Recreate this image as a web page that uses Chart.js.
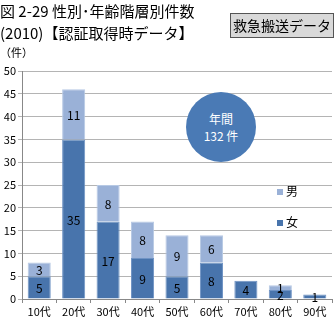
<!DOCTYPE html>
<html>
<head>
<meta charset="utf-8">
<script src="https://cdn.jsdelivr.net/npm/chart.js@4"></script>
<style>
  body { margin: 0; background: #fff; font-family: "Noto Sans CJK JP", sans-serif; }
  #wrap { position: relative; width: 335px; height: 320px; overflow: hidden; }
  #wrap canvas { position: absolute; left: 0; top: 0; }
  .title { position: absolute; left: 0; font-size: 15px; line-height: 18px; color: #000; white-space: nowrap; }
  #badge { position: absolute; left: 230px; top: 13px; width: 102px; height: 23px; background: #d9d9d9;
           border: 1px solid #555; font-size: 14px; line-height: 23px; text-align: center; box-sizing: content-box; }
  #unit { position: absolute; left: 0px; top: 44px; font-size: 11px; }
  #bubble { position: absolute; left: 186px; top: 92px; width: 70px; height: 70px; border-radius: 50%;
            background: #4a7ab5; color: #fff; font-size: 12px; line-height: 17px; text-align: center;
            display: flex; flex-direction: column; justify-content: center; }
  .leg { position: absolute; left: 277px; font-size: 12px; line-height: 14px; }
  .leg span { display: inline-block; width: 6px; height: 6px; margin-right: 3px; vertical-align: 1px; }
</style>
</head>
<body>
<div id="wrap">
  <canvas id="chart" width="335" height="320"></canvas>
  <div class="title" style="top:2px">図 2-29 性別･年齢階層別件数</div>
  <div class="title" style="top:24px">(2010)【認証取得時データ】</div>
  <div id="badge">救急搬送データ</div>
  <div id="unit">（件）</div>
  <div id="bubble"><div>年間</div><div>132 件</div></div>
  <div class="leg" id="legMale" style="top:184px"></div>
  <div class="leg" id="legFemale" style="top:215px"></div>
</div>
<script>
const ageGroups = ["10代", "20代", "30代", "40代", "50代", "60代", "70代", "80代", "90代"];
const female = [5, 35, 17, 9, 5, 8, 4, 2, 1];
const male = [3, 11, 8, 8, 9, 6, 0, 1, 0];
const seriesNames = ["女", "男"];
const yTicks = [0, 5, 10, 15, 20, 25, 30, 35, 40, 45, 50];

const dark = "#4874ac";
const light = "#9ab1d7";
const gridColor = "#b4b4b4";

document.getElementById("legMale").innerHTML = '<span style="background:' + light + '"></span>' + seriesNames[1];
document.getElementById("legFemale").innerHTML = '<span style="background:' + dark + '"></span>' + seriesNames[0];

const labelPlugin = {
  id: "segLabels",
  afterDatasetsDraw(chart) {
    const ctx = chart.ctx;
    ctx.save();
    ctx.font = "12px 'Noto Sans CJK JP', sans-serif";
    ctx.fillStyle = "#000";
    ctx.textAlign = "center";
    ctx.textBaseline = "middle";
    chart.data.datasets.forEach((ds, i) => {
      chart.getDatasetMeta(i).data.forEach((bar, j) => {
        const v = ds.data[j];
        if (!v) return;
        const mid = (bar.y + bar.base) / 2;
        ctx.fillText(String(v), bar.x, mid + 1);
      });
    });
    ctx.restore();
  }
};

new Chart(document.getElementById("chart"), {
  type: "bar",
  data: {
    labels: ageGroups,
    datasets: [
      { label: seriesNames[0], data: female, backgroundColor: dark, borderColor: "#6f93c4", borderWidth: 1 },
      { label: seriesNames[1], data: male, backgroundColor: light, borderColor: "#b7c9e4", borderWidth: 1 }
    ]
  },
  options: {
    responsive: false,
    animation: false,
    devicePixelRatio: 1,
    layout: { padding: { top: 71, right: 3, left: 0, bottom: 0 } },
    plugins: { legend: { display: false }, tooltip: { enabled: false } },
    datasets: { bar: { categoryPercentage: 1, barPercentage: 0.67 } },
    scales: {
      x: {
        stacked: true,
        grid: { offset: true, drawOnChartArea: false, color: "#888", tickLength: 4 },
        border: { color: "#888" },
        ticks: { color: "#000", font: { size: 11, family: "'Noto Sans CJK JP', sans-serif" }, padding: 2 },
        afterFit(s) { s.height = 21; }
      },
      y: {
        stacked: true,
        min: 0,
        max: 50,
        afterBuildTicks(s) { s.ticks = yTicks.map(v => ({ value: v })); },
        grid: { color: gridColor, tickLength: 4 },
        border: { color: "#888" },
        ticks: { color: "#000", font: { size: 11, family: "'Noto Sans CJK JP', sans-serif" }, padding: 2 },
        afterFit(s) { s.width = 22; }
      }
    }
  },
  plugins: [labelPlugin]
});
</script>
</body>
</html>
